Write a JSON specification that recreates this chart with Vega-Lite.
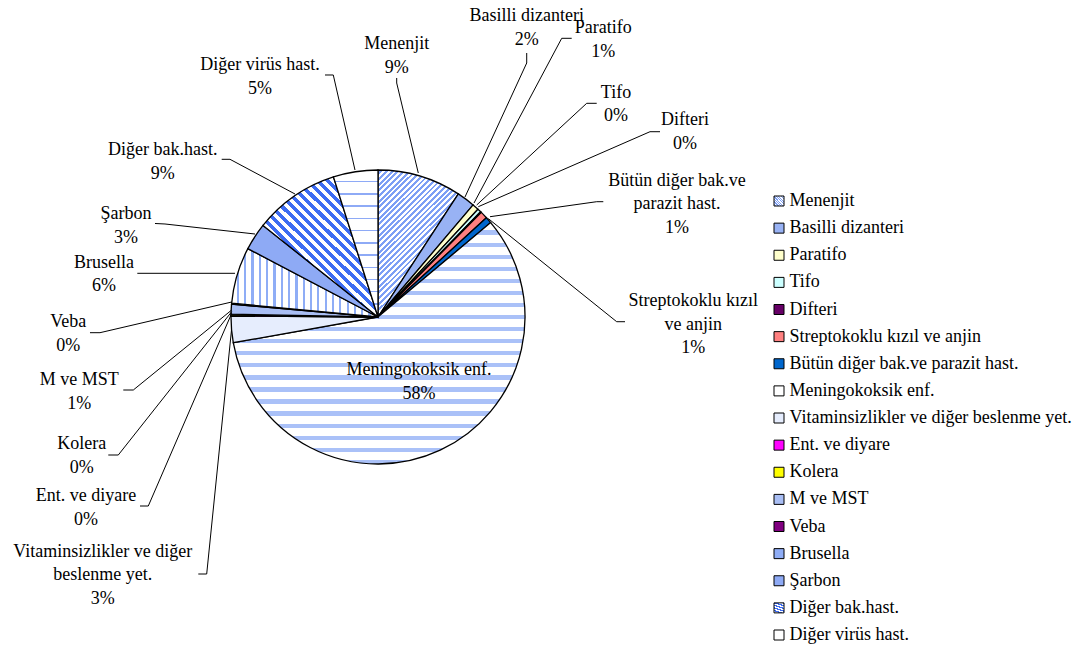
{
  "$schema": "https://vega.github.io/schema/vega-lite/v6.json",
  "width": 1089,
  "height": 650,
  "autosize": {"type": "fit", "contains": "padding"},
  "padding": 0,
  "background": "white",
  "config": {
    "view": {"stroke": null},
    "text": {"font": "Liberation Serif", "fontSize": 18, "color": "black"}
  },
  "params": [
    {
      "name": "pats",
      "value": {
        "Menenjit": {"gradient": "linear", "x1": 0, "y1": 0, "x2": 0.648, "y2": 1.191, "stops": [
          {"offset": 0, "color": "#fff"}, {"offset": 0.0125, "color": "#fff"}, {"offset": 0.0125, "color": "#7d9ff5"}, {"offset": 0.025, "color": "#7d9ff5"},
          {"offset": 0.025, "color": "#fff"}, {"offset": 0.0375, "color": "#fff"}, {"offset": 0.0375, "color": "#7d9ff5"}, {"offset": 0.05, "color": "#7d9ff5"},
          {"offset": 0.05, "color": "#fff"}, {"offset": 0.0625, "color": "#fff"}, {"offset": 0.0625, "color": "#7d9ff5"}, {"offset": 0.075, "color": "#7d9ff5"},
          {"offset": 0.075, "color": "#fff"}, {"offset": 0.0875, "color": "#fff"}, {"offset": 0.0875, "color": "#7d9ff5"}, {"offset": 0.1, "color": "#7d9ff5"},
          {"offset": 0.1, "color": "#fff"}, {"offset": 0.1125, "color": "#fff"}, {"offset": 0.1125, "color": "#7d9ff5"}, {"offset": 0.125, "color": "#7d9ff5"},
          {"offset": 0.125, "color": "#fff"}, {"offset": 0.1375, "color": "#fff"}, {"offset": 0.1375, "color": "#7d9ff5"}, {"offset": 0.15, "color": "#7d9ff5"},
          {"offset": 0.15, "color": "#fff"}, {"offset": 0.1625, "color": "#fff"}, {"offset": 0.1625, "color": "#7d9ff5"}, {"offset": 0.175, "color": "#7d9ff5"},
          {"offset": 0.175, "color": "#fff"}, {"offset": 0.1875, "color": "#fff"}, {"offset": 0.1875, "color": "#7d9ff5"}, {"offset": 0.2, "color": "#7d9ff5"},
          {"offset": 0.2, "color": "#fff"}, {"offset": 0.2125, "color": "#fff"}, {"offset": 0.2125, "color": "#7d9ff5"}, {"offset": 0.225, "color": "#7d9ff5"},
          {"offset": 0.225, "color": "#fff"}, {"offset": 0.2375, "color": "#fff"}, {"offset": 0.2375, "color": "#7d9ff5"}, {"offset": 0.25, "color": "#7d9ff5"},
          {"offset": 0.25, "color": "#fff"}, {"offset": 0.2625, "color": "#fff"}, {"offset": 0.2625, "color": "#7d9ff5"}, {"offset": 0.275, "color": "#7d9ff5"},
          {"offset": 0.275, "color": "#fff"}, {"offset": 0.2875, "color": "#fff"}, {"offset": 0.2875, "color": "#7d9ff5"}, {"offset": 0.3, "color": "#7d9ff5"},
          {"offset": 0.3, "color": "#fff"}, {"offset": 0.3125, "color": "#fff"}, {"offset": 0.3125, "color": "#7d9ff5"}, {"offset": 0.325, "color": "#7d9ff5"},
          {"offset": 0.325, "color": "#fff"}, {"offset": 0.3375, "color": "#fff"}, {"offset": 0.3375, "color": "#7d9ff5"}, {"offset": 0.35, "color": "#7d9ff5"},
          {"offset": 0.35, "color": "#fff"}, {"offset": 0.3625, "color": "#fff"}, {"offset": 0.3625, "color": "#7d9ff5"}, {"offset": 0.375, "color": "#7d9ff5"},
          {"offset": 0.375, "color": "#fff"}, {"offset": 0.3875, "color": "#fff"}, {"offset": 0.3875, "color": "#7d9ff5"}, {"offset": 0.4, "color": "#7d9ff5"},
          {"offset": 0.4, "color": "#fff"}, {"offset": 0.4125, "color": "#fff"}, {"offset": 0.4125, "color": "#7d9ff5"}, {"offset": 0.425, "color": "#7d9ff5"},
          {"offset": 0.425, "color": "#fff"}, {"offset": 0.4375, "color": "#fff"}, {"offset": 0.4375, "color": "#7d9ff5"}, {"offset": 0.45, "color": "#7d9ff5"},
          {"offset": 0.45, "color": "#fff"}, {"offset": 0.4625, "color": "#fff"}, {"offset": 0.4625, "color": "#7d9ff5"}, {"offset": 0.475, "color": "#7d9ff5"},
          {"offset": 0.475, "color": "#fff"}, {"offset": 0.4875, "color": "#fff"}, {"offset": 0.4875, "color": "#7d9ff5"}, {"offset": 0.5, "color": "#7d9ff5"},
          {"offset": 0.5, "color": "#fff"}, {"offset": 0.5125, "color": "#fff"}, {"offset": 0.5125, "color": "#7d9ff5"}, {"offset": 0.525, "color": "#7d9ff5"},
          {"offset": 0.525, "color": "#fff"}, {"offset": 0.5375, "color": "#fff"}, {"offset": 0.5375, "color": "#7d9ff5"}, {"offset": 0.55, "color": "#7d9ff5"},
          {"offset": 0.55, "color": "#fff"}, {"offset": 0.5625, "color": "#fff"}, {"offset": 0.5625, "color": "#7d9ff5"}, {"offset": 0.575, "color": "#7d9ff5"},
          {"offset": 0.575, "color": "#fff"}, {"offset": 0.5875, "color": "#fff"}, {"offset": 0.5875, "color": "#7d9ff5"}, {"offset": 0.6, "color": "#7d9ff5"},
          {"offset": 0.6, "color": "#fff"}, {"offset": 0.6125, "color": "#fff"}, {"offset": 0.6125, "color": "#7d9ff5"}, {"offset": 0.625, "color": "#7d9ff5"},
          {"offset": 0.625, "color": "#fff"}, {"offset": 0.6375, "color": "#fff"}, {"offset": 0.6375, "color": "#7d9ff5"}, {"offset": 0.65, "color": "#7d9ff5"},
          {"offset": 0.65, "color": "#fff"}, {"offset": 0.6625, "color": "#fff"}, {"offset": 0.6625, "color": "#7d9ff5"}, {"offset": 0.675, "color": "#7d9ff5"},
          {"offset": 0.675, "color": "#fff"}, {"offset": 0.6875, "color": "#fff"}, {"offset": 0.6875, "color": "#7d9ff5"}, {"offset": 0.7, "color": "#7d9ff5"},
          {"offset": 0.7, "color": "#fff"}, {"offset": 0.7125, "color": "#fff"}, {"offset": 0.7125, "color": "#7d9ff5"}, {"offset": 0.725, "color": "#7d9ff5"},
          {"offset": 0.725, "color": "#fff"}, {"offset": 0.7375, "color": "#fff"}, {"offset": 0.7375, "color": "#7d9ff5"}, {"offset": 0.75, "color": "#7d9ff5"},
          {"offset": 0.75, "color": "#fff"}, {"offset": 0.7625, "color": "#fff"}, {"offset": 0.7625, "color": "#7d9ff5"}, {"offset": 0.775, "color": "#7d9ff5"},
          {"offset": 0.775, "color": "#fff"}, {"offset": 0.7875, "color": "#fff"}, {"offset": 0.7875, "color": "#7d9ff5"}, {"offset": 0.8, "color": "#7d9ff5"},
          {"offset": 0.8, "color": "#fff"}, {"offset": 0.8125, "color": "#fff"}, {"offset": 0.8125, "color": "#7d9ff5"}, {"offset": 0.825, "color": "#7d9ff5"},
          {"offset": 0.825, "color": "#fff"}, {"offset": 0.8375, "color": "#fff"}, {"offset": 0.8375, "color": "#7d9ff5"}, {"offset": 0.85, "color": "#7d9ff5"},
          {"offset": 0.85, "color": "#fff"}, {"offset": 0.8625, "color": "#fff"}, {"offset": 0.8625, "color": "#7d9ff5"}, {"offset": 0.875, "color": "#7d9ff5"},
          {"offset": 0.875, "color": "#fff"}, {"offset": 0.8875, "color": "#fff"}, {"offset": 0.8875, "color": "#7d9ff5"}, {"offset": 0.9, "color": "#7d9ff5"},
          {"offset": 0.9, "color": "#fff"}, {"offset": 0.9125, "color": "#fff"}, {"offset": 0.9125, "color": "#7d9ff5"}, {"offset": 0.925, "color": "#7d9ff5"},
          {"offset": 0.925, "color": "#fff"}, {"offset": 0.9375, "color": "#fff"}, {"offset": 0.9375, "color": "#7d9ff5"}, {"offset": 0.95, "color": "#7d9ff5"},
          {"offset": 0.95, "color": "#fff"}, {"offset": 0.9625, "color": "#fff"}, {"offset": 0.9625, "color": "#7d9ff5"}, {"offset": 0.975, "color": "#7d9ff5"},
          {"offset": 0.975, "color": "#fff"}, {"offset": 0.9875, "color": "#fff"}, {"offset": 0.9875, "color": "#7d9ff5"}, {"offset": 1, "color": "#7d9ff5"}
        ]},
        "Basilli dizanteri": "#98b2f4",
        "Paratifo": "#ffffcc",
        "Tifo": "#ccffff",
        "Difteri": "#660066",
        "Streptokoklu kızıl ve anjin": "#ff8080",
        "Bütün diğer bak.ve parazit hast.": "#0066cc",
        "Meningokoksik enf.": {"gradient": "linear", "x1": 0, "y1": 0, "x2": 0, "y2": 1, "stops": [
          {"offset": 0, "color": "#fff"}, {"offset": 0.0325, "color": "#fff"}, {"offset": 0.0325, "color": "#aac1f8"}, {"offset": 0.05, "color": "#aac1f8"},
          {"offset": 0.05, "color": "#fff"}, {"offset": 0.0825, "color": "#fff"}, {"offset": 0.0825, "color": "#aac1f8"}, {"offset": 0.1, "color": "#aac1f8"},
          {"offset": 0.1, "color": "#fff"}, {"offset": 0.1325, "color": "#fff"}, {"offset": 0.1325, "color": "#aac1f8"}, {"offset": 0.15, "color": "#aac1f8"},
          {"offset": 0.15, "color": "#fff"}, {"offset": 0.1825, "color": "#fff"}, {"offset": 0.1825, "color": "#aac1f8"}, {"offset": 0.2, "color": "#aac1f8"},
          {"offset": 0.2, "color": "#fff"}, {"offset": 0.2325, "color": "#fff"}, {"offset": 0.2325, "color": "#aac1f8"}, {"offset": 0.25, "color": "#aac1f8"},
          {"offset": 0.25, "color": "#fff"}, {"offset": 0.2825, "color": "#fff"}, {"offset": 0.2825, "color": "#aac1f8"}, {"offset": 0.3, "color": "#aac1f8"},
          {"offset": 0.3, "color": "#fff"}, {"offset": 0.3325, "color": "#fff"}, {"offset": 0.3325, "color": "#aac1f8"}, {"offset": 0.35, "color": "#aac1f8"},
          {"offset": 0.35, "color": "#fff"}, {"offset": 0.3825, "color": "#fff"}, {"offset": 0.3825, "color": "#aac1f8"}, {"offset": 0.4, "color": "#aac1f8"},
          {"offset": 0.4, "color": "#fff"}, {"offset": 0.4325, "color": "#fff"}, {"offset": 0.4325, "color": "#aac1f8"}, {"offset": 0.45, "color": "#aac1f8"},
          {"offset": 0.45, "color": "#fff"}, {"offset": 0.4825, "color": "#fff"}, {"offset": 0.4825, "color": "#aac1f8"}, {"offset": 0.5, "color": "#aac1f8"},
          {"offset": 0.5, "color": "#fff"}, {"offset": 0.5325, "color": "#fff"}, {"offset": 0.5325, "color": "#aac1f8"}, {"offset": 0.55, "color": "#aac1f8"},
          {"offset": 0.55, "color": "#fff"}, {"offset": 0.5825, "color": "#fff"}, {"offset": 0.5825, "color": "#aac1f8"}, {"offset": 0.6, "color": "#aac1f8"},
          {"offset": 0.6, "color": "#fff"}, {"offset": 0.6325, "color": "#fff"}, {"offset": 0.6325, "color": "#aac1f8"}, {"offset": 0.65, "color": "#aac1f8"},
          {"offset": 0.65, "color": "#fff"}, {"offset": 0.6825, "color": "#fff"}, {"offset": 0.6825, "color": "#aac1f8"}, {"offset": 0.7, "color": "#aac1f8"},
          {"offset": 0.7, "color": "#fff"}, {"offset": 0.7325, "color": "#fff"}, {"offset": 0.7325, "color": "#aac1f8"}, {"offset": 0.75, "color": "#aac1f8"},
          {"offset": 0.75, "color": "#fff"}, {"offset": 0.7825, "color": "#fff"}, {"offset": 0.7825, "color": "#aac1f8"}, {"offset": 0.8, "color": "#aac1f8"},
          {"offset": 0.8, "color": "#fff"}, {"offset": 0.8325, "color": "#fff"}, {"offset": 0.8325, "color": "#aac1f8"}, {"offset": 0.85, "color": "#aac1f8"},
          {"offset": 0.85, "color": "#fff"}, {"offset": 0.8825, "color": "#fff"}, {"offset": 0.8825, "color": "#aac1f8"}, {"offset": 0.9, "color": "#aac1f8"},
          {"offset": 0.9, "color": "#fff"}, {"offset": 0.9325, "color": "#fff"}, {"offset": 0.9325, "color": "#aac1f8"}, {"offset": 0.95, "color": "#aac1f8"},
          {"offset": 0.95, "color": "#fff"}, {"offset": 0.9825, "color": "#fff"}, {"offset": 0.9825, "color": "#aac1f8"}, {"offset": 1, "color": "#aac1f8"}
        ]},
        "Vitaminsizlikler ve diğer beslenme yet.": "#e6edfd",
        "Ent. ve diyare": "#ff00ff",
        "Kolera": "#ffff00",
        "M ve MST": "#a9bef4",
        "Veba": "#800080",
        "Brusella": {"gradient": "linear", "x1": 0, "y1": 0, "x2": 1, "y2": 0, "stops": [
          {"offset": 0, "color": "#fff"}, {"offset": 0.035, "color": "#fff"}, {"offset": 0.035, "color": "#8fadf6"}, {"offset": 0.05, "color": "#8fadf6"},
          {"offset": 0.05, "color": "#fff"}, {"offset": 0.085, "color": "#fff"}, {"offset": 0.085, "color": "#8fadf6"}, {"offset": 0.1, "color": "#8fadf6"},
          {"offset": 0.1, "color": "#fff"}, {"offset": 0.135, "color": "#fff"}, {"offset": 0.135, "color": "#8fadf6"}, {"offset": 0.15, "color": "#8fadf6"},
          {"offset": 0.15, "color": "#fff"}, {"offset": 0.185, "color": "#fff"}, {"offset": 0.185, "color": "#8fadf6"}, {"offset": 0.2, "color": "#8fadf6"},
          {"offset": 0.2, "color": "#fff"}, {"offset": 0.235, "color": "#fff"}, {"offset": 0.235, "color": "#8fadf6"}, {"offset": 0.25, "color": "#8fadf6"},
          {"offset": 0.25, "color": "#fff"}, {"offset": 0.285, "color": "#fff"}, {"offset": 0.285, "color": "#8fadf6"}, {"offset": 0.3, "color": "#8fadf6"},
          {"offset": 0.3, "color": "#fff"}, {"offset": 0.335, "color": "#fff"}, {"offset": 0.335, "color": "#8fadf6"}, {"offset": 0.35, "color": "#8fadf6"},
          {"offset": 0.35, "color": "#fff"}, {"offset": 0.385, "color": "#fff"}, {"offset": 0.385, "color": "#8fadf6"}, {"offset": 0.4, "color": "#8fadf6"},
          {"offset": 0.4, "color": "#fff"}, {"offset": 0.435, "color": "#fff"}, {"offset": 0.435, "color": "#8fadf6"}, {"offset": 0.45, "color": "#8fadf6"},
          {"offset": 0.45, "color": "#fff"}, {"offset": 0.485, "color": "#fff"}, {"offset": 0.485, "color": "#8fadf6"}, {"offset": 0.5, "color": "#8fadf6"},
          {"offset": 0.5, "color": "#fff"}, {"offset": 0.535, "color": "#fff"}, {"offset": 0.535, "color": "#8fadf6"}, {"offset": 0.55, "color": "#8fadf6"},
          {"offset": 0.55, "color": "#fff"}, {"offset": 0.585, "color": "#fff"}, {"offset": 0.585, "color": "#8fadf6"}, {"offset": 0.6, "color": "#8fadf6"},
          {"offset": 0.6, "color": "#fff"}, {"offset": 0.635, "color": "#fff"}, {"offset": 0.635, "color": "#8fadf6"}, {"offset": 0.65, "color": "#8fadf6"},
          {"offset": 0.65, "color": "#fff"}, {"offset": 0.685, "color": "#fff"}, {"offset": 0.685, "color": "#8fadf6"}, {"offset": 0.7, "color": "#8fadf6"},
          {"offset": 0.7, "color": "#fff"}, {"offset": 0.735, "color": "#fff"}, {"offset": 0.735, "color": "#8fadf6"}, {"offset": 0.75, "color": "#8fadf6"},
          {"offset": 0.75, "color": "#fff"}, {"offset": 0.785, "color": "#fff"}, {"offset": 0.785, "color": "#8fadf6"}, {"offset": 0.8, "color": "#8fadf6"},
          {"offset": 0.8, "color": "#fff"}, {"offset": 0.835, "color": "#fff"}, {"offset": 0.835, "color": "#8fadf6"}, {"offset": 0.85, "color": "#8fadf6"},
          {"offset": 0.85, "color": "#fff"}, {"offset": 0.885, "color": "#fff"}, {"offset": 0.885, "color": "#8fadf6"}, {"offset": 0.9, "color": "#8fadf6"},
          {"offset": 0.9, "color": "#fff"}, {"offset": 0.935, "color": "#fff"}, {"offset": 0.935, "color": "#8fadf6"}, {"offset": 0.95, "color": "#8fadf6"},
          {"offset": 0.95, "color": "#fff"}, {"offset": 0.985, "color": "#fff"}, {"offset": 0.985, "color": "#8fadf6"}, {"offset": 1, "color": "#8fadf6"}
        ]},
        "Şarbon": "#8eaaf5",
        "Diğer bak.hast.": {"gradient": "linear", "x1": 0, "y1": 1, "x2": 0.884, "y2": -0.094, "stops": [
          {"offset": 0, "color": "#fff"}, {"offset": 0.02, "color": "#fff"}, {"offset": 0.02, "color": "#3d6cf2"}, {"offset": 0.04, "color": "#3d6cf2"},
          {"offset": 0.04, "color": "#fff"}, {"offset": 0.06, "color": "#fff"}, {"offset": 0.06, "color": "#3d6cf2"}, {"offset": 0.08, "color": "#3d6cf2"},
          {"offset": 0.08, "color": "#fff"}, {"offset": 0.1, "color": "#fff"}, {"offset": 0.1, "color": "#3d6cf2"}, {"offset": 0.12, "color": "#3d6cf2"},
          {"offset": 0.12, "color": "#fff"}, {"offset": 0.14, "color": "#fff"}, {"offset": 0.14, "color": "#3d6cf2"}, {"offset": 0.16, "color": "#3d6cf2"},
          {"offset": 0.16, "color": "#fff"}, {"offset": 0.18, "color": "#fff"}, {"offset": 0.18, "color": "#3d6cf2"}, {"offset": 0.2, "color": "#3d6cf2"},
          {"offset": 0.2, "color": "#fff"}, {"offset": 0.22, "color": "#fff"}, {"offset": 0.22, "color": "#3d6cf2"}, {"offset": 0.24, "color": "#3d6cf2"},
          {"offset": 0.24, "color": "#fff"}, {"offset": 0.26, "color": "#fff"}, {"offset": 0.26, "color": "#3d6cf2"}, {"offset": 0.28, "color": "#3d6cf2"},
          {"offset": 0.28, "color": "#fff"}, {"offset": 0.3, "color": "#fff"}, {"offset": 0.3, "color": "#3d6cf2"}, {"offset": 0.32, "color": "#3d6cf2"},
          {"offset": 0.32, "color": "#fff"}, {"offset": 0.34, "color": "#fff"}, {"offset": 0.34, "color": "#3d6cf2"}, {"offset": 0.36, "color": "#3d6cf2"},
          {"offset": 0.36, "color": "#fff"}, {"offset": 0.38, "color": "#fff"}, {"offset": 0.38, "color": "#3d6cf2"}, {"offset": 0.4, "color": "#3d6cf2"},
          {"offset": 0.4, "color": "#fff"}, {"offset": 0.42, "color": "#fff"}, {"offset": 0.42, "color": "#3d6cf2"}, {"offset": 0.44, "color": "#3d6cf2"},
          {"offset": 0.44, "color": "#fff"}, {"offset": 0.46, "color": "#fff"}, {"offset": 0.46, "color": "#3d6cf2"}, {"offset": 0.48, "color": "#3d6cf2"},
          {"offset": 0.48, "color": "#fff"}, {"offset": 0.5, "color": "#fff"}, {"offset": 0.5, "color": "#3d6cf2"}, {"offset": 0.52, "color": "#3d6cf2"},
          {"offset": 0.52, "color": "#fff"}, {"offset": 0.54, "color": "#fff"}, {"offset": 0.54, "color": "#3d6cf2"}, {"offset": 0.56, "color": "#3d6cf2"},
          {"offset": 0.56, "color": "#fff"}, {"offset": 0.58, "color": "#fff"}, {"offset": 0.58, "color": "#3d6cf2"}, {"offset": 0.6, "color": "#3d6cf2"},
          {"offset": 0.6, "color": "#fff"}, {"offset": 0.62, "color": "#fff"}, {"offset": 0.62, "color": "#3d6cf2"}, {"offset": 0.64, "color": "#3d6cf2"},
          {"offset": 0.64, "color": "#fff"}, {"offset": 0.66, "color": "#fff"}, {"offset": 0.66, "color": "#3d6cf2"}, {"offset": 0.68, "color": "#3d6cf2"},
          {"offset": 0.68, "color": "#fff"}, {"offset": 0.7, "color": "#fff"}, {"offset": 0.7, "color": "#3d6cf2"}, {"offset": 0.72, "color": "#3d6cf2"},
          {"offset": 0.72, "color": "#fff"}, {"offset": 0.74, "color": "#fff"}, {"offset": 0.74, "color": "#3d6cf2"}, {"offset": 0.76, "color": "#3d6cf2"},
          {"offset": 0.76, "color": "#fff"}, {"offset": 0.78, "color": "#fff"}, {"offset": 0.78, "color": "#3d6cf2"}, {"offset": 0.8, "color": "#3d6cf2"},
          {"offset": 0.8, "color": "#fff"}, {"offset": 0.82, "color": "#fff"}, {"offset": 0.82, "color": "#3d6cf2"}, {"offset": 0.84, "color": "#3d6cf2"},
          {"offset": 0.84, "color": "#fff"}, {"offset": 0.86, "color": "#fff"}, {"offset": 0.86, "color": "#3d6cf2"}, {"offset": 0.88, "color": "#3d6cf2"},
          {"offset": 0.88, "color": "#fff"}, {"offset": 0.9, "color": "#fff"}, {"offset": 0.9, "color": "#3d6cf2"}, {"offset": 0.92, "color": "#3d6cf2"},
          {"offset": 0.92, "color": "#fff"}, {"offset": 0.94, "color": "#fff"}, {"offset": 0.94, "color": "#3d6cf2"}, {"offset": 0.96, "color": "#3d6cf2"},
          {"offset": 0.96, "color": "#fff"}, {"offset": 0.98, "color": "#fff"}, {"offset": 0.98, "color": "#3d6cf2"}, {"offset": 1, "color": "#3d6cf2"}
        ]},
        "Diğer virüs hast.": {"gradient": "linear", "x1": 0, "y1": 0, "x2": 0, "y2": 1, "stops": [
          {"offset": 0, "color": "#fff"}, {"offset": 0.0733, "color": "#fff"}, {"offset": 0.0733, "color": "#8eaaf6"}, {"offset": 0.0833, "color": "#8eaaf6"},
          {"offset": 0.0833, "color": "#fff"}, {"offset": 0.1567, "color": "#fff"}, {"offset": 0.1567, "color": "#8eaaf6"}, {"offset": 0.1667, "color": "#8eaaf6"},
          {"offset": 0.1667, "color": "#fff"}, {"offset": 0.24, "color": "#fff"}, {"offset": 0.24, "color": "#8eaaf6"}, {"offset": 0.25, "color": "#8eaaf6"},
          {"offset": 0.25, "color": "#fff"}, {"offset": 0.3233, "color": "#fff"}, {"offset": 0.3233, "color": "#8eaaf6"}, {"offset": 0.3333, "color": "#8eaaf6"},
          {"offset": 0.3333, "color": "#fff"}, {"offset": 0.4067, "color": "#fff"}, {"offset": 0.4067, "color": "#8eaaf6"}, {"offset": 0.4167, "color": "#8eaaf6"},
          {"offset": 0.4167, "color": "#fff"}, {"offset": 0.49, "color": "#fff"}, {"offset": 0.49, "color": "#8eaaf6"}, {"offset": 0.5, "color": "#8eaaf6"},
          {"offset": 0.5, "color": "#fff"}, {"offset": 0.5733, "color": "#fff"}, {"offset": 0.5733, "color": "#8eaaf6"}, {"offset": 0.5833, "color": "#8eaaf6"},
          {"offset": 0.5833, "color": "#fff"}, {"offset": 0.6567, "color": "#fff"}, {"offset": 0.6567, "color": "#8eaaf6"}, {"offset": 0.6667, "color": "#8eaaf6"},
          {"offset": 0.6667, "color": "#fff"}, {"offset": 0.74, "color": "#fff"}, {"offset": 0.74, "color": "#8eaaf6"}, {"offset": 0.75, "color": "#8eaaf6"},
          {"offset": 0.75, "color": "#fff"}, {"offset": 0.8233, "color": "#fff"}, {"offset": 0.8233, "color": "#8eaaf6"}, {"offset": 0.8333, "color": "#8eaaf6"},
          {"offset": 0.8333, "color": "#fff"}, {"offset": 0.9067, "color": "#fff"}, {"offset": 0.9067, "color": "#8eaaf6"}, {"offset": 0.9167, "color": "#8eaaf6"},
          {"offset": 0.9167, "color": "#fff"}, {"offset": 0.99, "color": "#fff"}, {"offset": 0.99, "color": "#8eaaf6"}, {"offset": 1, "color": "#8eaaf6"}
        ]}
      }
    }
  ],
  "datasets": {
    "slices": [
      {"i": 1, "name": "Menenjit", "label": "Menenjit", "share": 0.092},
      {"i": 2, "name": "Basilli dizanteri", "label": "Basilli dizanteri", "share": 0.020},
      {"i": 3, "name": "Paratifo", "label": "Paratifo", "share": 0.007},
      {"i": 4, "name": "Tifo", "label": "\u00a0Tifo", "share": 0.004},
      {"i": 5, "name": "Difteri", "label": "Difteri", "share": 0.001},
      {"i": 6, "name": "Streptokoklu kızıl ve anjin", "label": "Streptokoklu kızıl ve anjin", "share": 0.008},
      {"i": 7, "name": "Bütün diğer bak.ve parazit hast.", "label": "Bütün diğer bak.ve parazit hast.", "share": 0.007},
      {"i": 8, "name": "Meningokoksik enf.", "label": "\u00a0Meningokoksik enf.", "share": 0.583},
      {"i": 9, "name": "Vitaminsizlikler ve diğer beslenme yet.", "label": "Vitaminsizlikler ve diğer beslenme yet.", "share": 0.029},
      {"i": 10, "name": "Ent. ve diyare", "label": "Ent. ve diyare", "share": 0.001},
      {"i": 11, "name": "Kolera", "label": "Kolera", "share": 0.001},
      {"i": 12, "name": "M ve MST", "label": "M ve MST", "share": 0.011},
      {"i": 13, "name": "Veba", "label": "Veba", "share": 0.001},
      {"i": 14, "name": "Brusella", "label": "Brusella", "share": 0.062},
      {"i": 15, "name": "Şarbon", "label": "Şarbon", "share": 0.030},
      {"i": 16, "name": "Diğer bak.hast.", "label": "Diğer bak.hast.", "share": 0.094},
      {"i": 17, "name": "Diğer virüs hast.", "label": "Diğer virüs hast.", "share": 0.049}
    ],
    "callouts": [
      {"name": "Menenjit", "caption": "Menenjit", "lx": 12.72, "ly": 182.31},
      {"name": "Basilli dizanteri", "caption": "Basilli dizanteri", "lx": 101.16, "ly": 201.36},
      {"name": "Paratifo", "caption": "Paratifo", "lx": 153.27, "ly": 193.2},
      {"name": "Tifo", "caption": "Tifo", "lx": 161.9, "ly": 149.32},
      {"name": "Difteri", "caption": "Difteri", "lx": 208.84, "ly": 130.61},
      {"name": "Bütün diğer bak.ve parazit hast.", "caption": "Bütün diğer bak.ve|parazit hast.", "lx": 203.4, "ly": 89.12},
      {"name": "Streptokoklu kızıl ve anjin", "caption": "Streptokoklu kızıl|ve anjin", "lx": 214.49, "ly": 7.48},
      {"name": "Meningokoksik enf.", "caption": "Meningokoksik enf.", "lx": 27.89, "ly": -39.46},
      {"name": "Vitaminsizlikler ve diğer beslenme yet.", "caption": "Vitaminsizlikler ve diğer|beslenme yet.", "lx": -187.28, "ly": -162.93},
      {"name": "Ent. ve diyare", "caption": "Ent. ve diyare", "lx": -198.64, "ly": -125.17},
      {"name": "Kolera", "caption": "Kolera", "lx": -201.56, "ly": -89.8},
      {"name": "M ve MST", "caption": "M ve MST", "lx": -203.2, "ly": -46.26},
      {"name": "Veba", "caption": "Veba", "lx": -210.68, "ly": -7.14},
      {"name": "Brusella", "caption": "Brusella", "lx": -186.39, "ly": 33.67},
      {"name": "Şarbon", "caption": "Şarbon", "lx": -171.43, "ly": 66.33},
      {"name": "Diğer bak.hast.", "caption": "Diğer bak.hast.", "lx": -146.46, "ly": 110.2},
      {"name": "Diğer virüs hast.", "caption": "Diğer virüs hast.", "lx": -80.27, "ly": 168.03}
    ],
    "leaders": [
      {"name": "Menenjit", "k": 0, "u": 12.72, "v": 162.59},
      {"name": "Menenjit", "k": 1, "u": 12.72, "v": 159.18},
      {"name": "Menenjit", "k": 2, "u": 27.41, "v": 97.96},
      {"name": "Basilli dizanteri", "k": 0, "u": 101.16, "v": 179.59},
      {"name": "Basilli dizanteri", "k": 1, "u": 101.16, "v": 172.79},
      {"name": "Basilli dizanteri", "k": 2, "u": 59.18, "v": 81.63},
      {"name": "Paratifo", "k": 0, "u": 131.77, "v": 189.59},
      {"name": "Paratifo", "k": 1, "u": 124.97, "v": 189.59},
      {"name": "Paratifo", "k": 2, "u": 65.31, "v": 77.55},
      {"name": "Tifo", "k": 0, "u": 148.78, "v": 145.37},
      {"name": "Tifo", "k": 1, "u": 141.97, "v": 145.37},
      {"name": "Tifo", "k": 2, "u": 67.14, "v": 76.19},
      {"name": "Difteri", "k": 0, "u": 191.84, "v": 126.05},
      {"name": "Difteri", "k": 1, "u": 185.03, "v": 126.05},
      {"name": "Difteri", "k": 2, "u": 68.23, "v": 75.03},
      {"name": "Bütün diğer bak.ve parazit hast.", "k": 0, "u": 153.27, "v": 78.44},
      {"name": "Bütün diğer bak.ve parazit hast.", "k": 1, "u": 148.78, "v": 78.44},
      {"name": "Bütün diğer bak.ve parazit hast.", "k": 2, "u": 76.19, "v": 68.23},
      {"name": "Streptokoklu kızıl ve anjin", "k": 0, "u": 168.03, "v": -3.2},
      {"name": "Streptokoklu kızıl ve anjin", "k": 1, "u": 162.38, "v": -3.2},
      {"name": "Streptokoklu kızıl ve anjin", "k": 2, "u": 75.03, "v": 66.94},
      {"name": "Vitaminsizlikler ve diğer beslenme yet.", "k": 0, "u": -122.24, "v": -174.83},
      {"name": "Vitaminsizlikler ve diğer beslenme yet.", "k": 1, "u": -116.53, "v": -174.83},
      {"name": "Vitaminsizlikler ve diğer beslenme yet.", "k": 2, "u": -99.66, "v": -8.84},
      {"name": "Ent. ve diyare", "k": 0, "u": -161.9, "v": -128.57},
      {"name": "Ent. ve diyare", "k": 1, "u": -156.26, "v": -128.57},
      {"name": "Ent. ve diyare", "k": 2, "u": -99.52, "v": 2.52},
      {"name": "Kolera", "k": 0, "u": -183.47, "v": -93.88},
      {"name": "Kolera", "k": 1, "u": -176.67, "v": -93.88},
      {"name": "Kolera", "k": 2, "u": -99.52, "v": 3.61},
      {"name": "M ve MST", "k": 0, "u": -173.27, "v": -49.66},
      {"name": "M ve MST", "k": 1, "u": -166.46, "v": -49.66},
      {"name": "M ve MST", "k": 2, "u": -99.52, "v": 4.76},
      {"name": "Veba", "k": 0, "u": -195.92, "v": -10.68},
      {"name": "Veba", "k": 1, "u": -189.12, "v": -10.68},
      {"name": "Veba", "k": 2, "u": -99.52, "v": 10.2},
      {"name": "Brusella", "k": 0, "u": -163.74, "v": 29.73},
      {"name": "Brusella", "k": 1, "u": -157.14, "v": 29.73},
      {"name": "Brusella", "k": 2, "u": -97.28, "v": 29.73},
      {"name": "Şarbon", "k": 0, "u": -151.7, "v": 63.61},
      {"name": "Şarbon", "k": 1, "u": -144.9, "v": 63.27},
      {"name": "Şarbon", "k": 2, "u": -83.67, "v": 56.46},
      {"name": "Diğer bak.hast.", "k": 0, "u": -106.33, "v": 107.28},
      {"name": "Diğer bak.hast.", "k": 1, "u": -100.68, "v": 107.28},
      {"name": "Diğer bak.hast.", "k": 2, "u": -56.46, "v": 83.67},
      {"name": "Diğer virüs hast.", "k": 0, "u": -36.05, "v": 164.63},
      {"name": "Diğer virüs hast.", "k": 1, "u": -30.41, "v": 164.63},
      {"name": "Diğer virüs hast.", "k": 2, "u": -15.65, "v": 100.0}
    ]
  },
  "layer": [
    {
      "layer": [
        {
          "data": {"name": "slices"},
          "mark": {"type": "arc", "outerRadius": 147, "stroke": "black", "strokeWidth": 1.3, "fill": {"expr": "pats[datum.name]"}},
          "encoding": {
            "theta": {"field": "share", "type": "quantitative", "stack": true},
            "order": {"field": "i", "type": "quantitative"},
            "x": {"datum": 0, "type": "quantitative", "scale": {"domain": [-257.14, 483.67]}, "axis": null},
            "y": {"datum": 0, "type": "quantitative", "scale": {"domain": [-226.53, 215.65]}, "axis": null}
          }
        },
        {
          "data": {"name": "leaders"},
          "mark": {"type": "line", "color": "black", "strokeWidth": 1},
          "encoding": {
            "x": {"field": "u", "type": "quantitative", "scale": {"domain": [-257.14, 483.67]}, "axis": null},
            "y": {"field": "v", "type": "quantitative", "scale": {"domain": [-226.53, 215.65]}, "axis": null},
            "detail": {"field": "name"},
            "order": {"field": "k", "type": "quantitative"}
          }
        },
        {
          "data": {"name": "callouts"},
          "transform": [
            {"lookup": "name", "from": {"data": {"name": "slices"}, "key": "name", "fields": ["share"]}}
          ],
          "mark": {
            "type": "text",
            "align": "center",
            "baseline": "alphabetic",
            "lineHeight": 23.5,
            "lineBreak": "|",
            "text": {"expr": "datum.caption + '|' + format(datum.share, '.0%')"}
          },
          "encoding": {
            "x": {"field": "lx", "type": "quantitative", "scale": {"domain": [-257.14, 483.67]}, "axis": null},
            "y": {"field": "ly", "type": "quantitative", "scale": {"domain": [-226.53, 215.65]}, "axis": null}
          }
        }
      ]
    },
    {
      "data": {"name": "slices"},
      "layer": [
        {
          "mark": {"type": "point", "shape": "square", "size": 100, "filled": true, "opacity": 1, "stroke": "black", "strokeWidth": 1, "fill": {"expr": "pats[datum.name]"}},
          "encoding": {
            "x": {"datum": 272.79, "type": "quantitative", "scale": {"domain": [-257.14, 483.67]}, "axis": null},
            "y": {"field": "name", "type": "ordinal", "sort": {"field": "i"}, "scale": {"type": "point", "padding": 0, "range": [201, 635]}, "axis": null}
          }
        },
        {
          "mark": {"type": "text", "align": "left", "baseline": "middle"},
          "encoding": {
            "x": {"datum": 279.93, "type": "quantitative", "scale": {"domain": [-257.14, 483.67]}, "axis": null},
            "y": {"field": "name", "type": "ordinal", "sort": {"field": "i"}, "scale": {"type": "point", "padding": 0, "range": [201, 635]}, "axis": null},
            "text": {"field": "label"}
          }
        }
      ]
    }
  ],
  "resolve": {"scale": {"y": "independent"}}
}
